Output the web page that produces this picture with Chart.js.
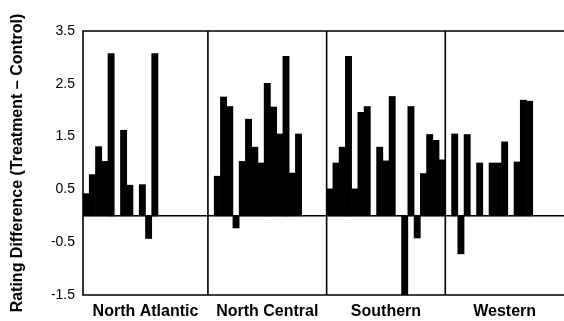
<!DOCTYPE html>
<html><head><meta charset="utf-8">
<script src="https://cdn.jsdelivr.net/npm/chart.js@4"></script>
<style>html,body{margin:0;padding:0;overflow:hidden;background:#fff}</style>
</head><body>
<canvas id="c" width="564" height="321"></canvas>
<script>
// Region names (panel labels)
const regions = ['North Atlantic', 'North Central', 'Southern', 'Western'];
// Rating differences per region (null = no bar in that slot)
const northAtlantic = [0.42, 0.78, 1.31, 1.03, 3.07, 0, 1.62, 0.58, 0, 0.59, -0.43, 3.07, null, null, null, null, null, null, null, null];
const northCentral  = [null, 0.75, 2.25, 2.07, -0.23, 1.03, 1.83, 1.30, 1.00, 2.51, 2.06, 1.55, 3.02, 0.81, 1.55, null, null, null, null];
const southern      = [0.51, 1.00, 1.30, 3.02, 0.51, 1.96, 2.07, 0, 1.30, 1.04, 2.26, 0, -1.50, 2.07, -0.42, 0.80, 1.54, 1.43, 1.06];
const western       = [null, 1.55, -0.72, 1.54, 0, 1.00, 0, 1.00, 1.00, 1.40, 0, 1.02, 2.19, 2.17, null, null, null, null, null];
// Y axis tick labels
const yTicks = [-1.5, -0.5, 0.5, 1.5, 2.5, 3.5];
const yTitle = 'Rating Difference (Treatment \u2013 Control)';

const groups = [northAtlantic, northCentral, southern, western];
const values = groups.flat();
const slotLabels = values.map((_, i) => String(i));
const starts = [];
let acc = 0;
groups.forEach(g => { starts.push(acc); acc += g.length; });

const framePlugin = {
  id: 'frame',
  afterDatasetsDraw(chart) {
    const {ctx, chartArea: a, scales: {x, y}} = chart;
    const half = (x.getPixelForValue(1) - x.getPixelForValue(0)) / 2;
    ctx.save();
    ctx.strokeStyle = '#000';
    ctx.lineWidth = 1.6;
    // zero line
    const y0 = y.getPixelForValue(0);
    ctx.beginPath(); ctx.moveTo(a.left, y0); ctx.lineTo(a.right, y0); ctx.stroke();
    // panel dividers
    starts.slice(1).forEach(s => {
      const px = x.getPixelForValue(s) - half;
      ctx.beginPath(); ctx.moveTo(px, a.top); ctx.lineTo(px, a.bottom); ctx.stroke();
    });
    // frame: top, left, bottom
    ctx.beginPath();
    ctx.moveTo(a.right, a.top); ctx.lineTo(a.left, a.top); ctx.lineTo(a.left, a.bottom); ctx.lineTo(a.right, a.bottom);
    ctx.stroke();
    // region labels
    ctx.fillStyle = '#000';
    ctx.font = 'bold 16px "Liberation Sans", Arial, sans-serif';
    ctx.textAlign = 'center';
    ctx.textBaseline = 'middle';
    groups.forEach((g, i) => {
      const l = x.getPixelForValue(starts[i]) - half;
      const r = x.getPixelForValue(starts[i] + g.length - 1) + half;
      ctx.fillText(regions[i], (l + r) / 2, a.bottom + 17);
    });
    ctx.restore();
  }
};

new Chart(document.getElementById('c'), {
  type: 'bar',
  data: {
    labels: slotLabels,
    datasets: [{
      data: values,
      backgroundColor: '#000',
      borderWidth: 0,
      barPercentage: 1,
      categoryPercentage: 1
    }]
  },
  options: {
    responsive: false,
    animation: false,
    layout: {padding: {top: 31, bottom: 26, left: 0, right: 0}},
    plugins: {legend: {display: false}, tooltip: {enabled: false}},
    scales: {
      x: {display: false},
      y: {
        min: -1.5, max: 3.5,
        afterBuildTicks: s => { s.ticks = yTicks.map(v => ({value: v})); },
        afterFit: s => { s.width = 83; },
        grid: {display: false, drawTicks: false},
        border: {display: false},
        ticks: {
          color: '#000', padding: 8,
          font: {size: 14, family: '"Liberation Sans", Arial, sans-serif'},
          callback: v => Number(v).toFixed(1)
        },
        title: {
          display: true, text: yTitle, color: '#000',
          padding: {top: 8, bottom: 0},
          font: {size: 16, weight: 'bold', family: '"Liberation Sans", Arial, sans-serif'}
        }
      }
    }
  },
  plugins: [framePlugin]
});
</script>
</body></html>
